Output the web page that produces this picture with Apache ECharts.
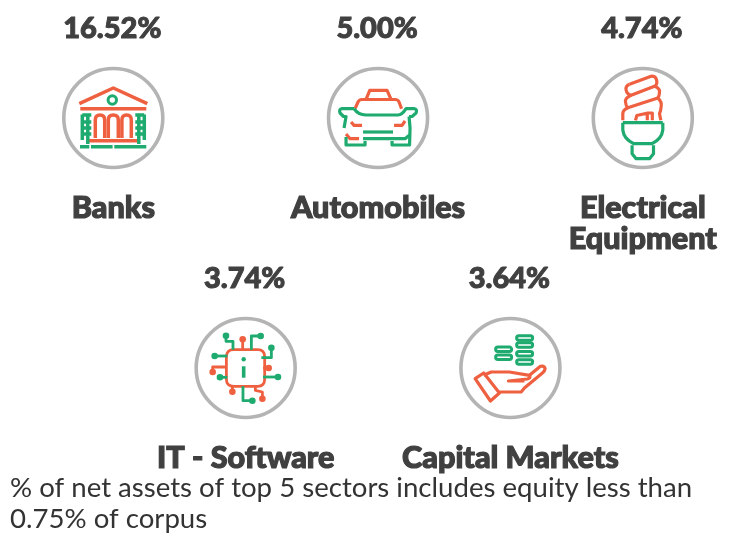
<!DOCTYPE html>
<html><head><meta charset="utf-8">
<style>html,body{margin:0;padding:0;background:#fff}#c{width:737px;height:546px}</style>
<script src="https://cdn.jsdelivr.net/npm/echarts@6/dist/echarts.min.js"></script>
</head><body><div id="c"></div>
<script>
const sectors = ['Banks','Automobiles','Electrical\nEquipment','IT - Software','Capital Markets'];
const shares = [16.52,5.00,4.74,3.74,3.64];
const slots = [0,1,2,0.5,1.5];
const rows = [0,0,0,1,1];
const iconKeys = ['bank','car','bulb','chip','hand'];
const footnote = '% of net assets of top 5 sectors includes equity less than\n0.75% of corpus';

const ORANGE='#ee6040', GREEN='#1fab6f', INK='#404040', RING='#b4b4b4';

echarts.graphic.registerShape('iconPath', echarts.graphic.extendShape({
  type:'iconPath',
  shape:{d:''},
  buildPath(ctx,s){
    const t=(s.d||'').trim().split(/[\s,]+/);let i=0;
    while(i<t.length){
      const c=t[i++];
      if(c==='M'){ctx.moveTo(+t[i],+t[i+1]);i+=2}
      else if(c==='L'){ctx.lineTo(+t[i],+t[i+1]);i+=2}
      else if(c==='Q'){ctx.quadraticCurveTo(+t[i],+t[i+1],+t[i+2],+t[i+3]);i+=4}
      else if(c==='Z'){ctx.closePath()}
    }
  }
}));

const dots=(list,color)=>list.map(p=>({type:'circle',shape:{cx:p[0],cy:p[1],r:p[2]||3.3},style:{fill:color,stroke:null}}));
const coin=(x,y)=>({type:'rect',shape:{x:x,y:y-2.2,width:16,height:4.4,r:2.2},style:{fill:'#fff',stroke:GREEN,lineWidth:3}});

const icons={
 bank:{w:3.5,o:[
   'M -34 -14.3 L 0 -30 L 34 -14.3',
   'M -33 -9.3 L 33 -9.3',
   'M -18 20 L -18 2 Q -18 -3 -13.3 -3 Q -8.6 -3 -8.6 2 L -8.6 20',
   'M -5 20 L -5 2 Q -5 -3 0 -3 Q 5 -3 5 2 L 5 20',
   'M 8.6 20 L 8.6 2 Q 8.6 -3 13.3 -3 Q 18 -3 18 2 L 18 20',
   'M -26.5 22.7 L 26 22.7'
 ],g:[
   'M -31 -3.5 L -31 22',
   'M -31 -3 L -22 -3 M -31 4 L -22 4 M -31 10 L -22 10 M -31 16 L -22 16 M -25.5 -3 L -25.5 26',
   'M 31 -3.5 L 31 22',
   'M 31 -3 L 22 -3 M 31 4 L 22 4 M 31 10 L 22 10 M 31 16 L 22 16 M 25.5 -3 L 25.5 26',
   'M -33.3 28.7 L -24 28.7 M -22.3 28.7 L -0.7 28.7 M 1 28.7 L 33 28.7'
 ],extra:[{type:'circle',shape:{cx:-1,cy:-18,r:4.2},style:{fill:'#fff',stroke:GREEN,lineWidth:3}}]},
 car:{w:3.2,o:[
   'M -11.7 -19.3 L -8.3 -27.7 L 9 -27.7 L 12.7 -19.3',
   'M -23 -9.3 L -20 -16 Q -19 -18.5 -16 -18.5 L 17 -18.5 Q 20 -18.5 21 -16 L 23.5 -9.3',
   'M -27 4 L -24 7.3 L -16 7.3',
   'M 27 3 L 24 7.3 L 16 7.3',
   'M -32 16 L -28 20.7 L -19 20.7'
 ],g:[
   'M -24 -9.3 Q -20 -3 -12 -3 L 20 -3 Q 24 -3 28 -9.3 L 36 -9.3 Q 39.5 -9 38 -5 L 34 -1.5 L 31 -1.5',
   'M -24 -9.3 L -36 -9.3 Q -39.5 -9 -38 -5 L -34.5 -1.5 L -32 -1.5 L -34 10',
   'M 31 -1.5 L 32 10 L 31.5 27 L 14 27 L 14 23',
   'M -32 19 L -32 27 L -13 27 L -13 23',
   'M -15 14 L 15 14',
   'M -15 20.7 L 27 20.7 L 31.5 17'
 ]},
 bulb:{w:3.2,o:[
   'M -13.3 -33.7 L 8.3 -41.7 Q 13 -42.5 14 -37 Q 14.5 -33 11.7 -31.7 Q 17 -30 16.7 -26 Q 16.5 -21.5 15 -20 Q 19.5 -16 18.3 -11 Q 18 -7 16.7 -4.3 L 18 2.3',
   'M -13.3 -33.7 Q -17.5 -32 -16.7 -28 Q -16 -24 -11.7 -22.7 L 11.7 -31.7',
   'M -11.7 -22.7 Q -18 -20 -17.3 -16 Q -17 -12 -15 -10.3 L 15 -20',
   'M -15 -10.3 Q -20 -8 -20 -4.3 L -20 2.3',
   'M -7.3 2.3 L -6 -2.5 L 5 -5 L 9.5 -5 L 9.5 2.3 M 4.5 -4.5 L 4.5 2.3'
 ],g:[
   'M -20 4.7 L 20 4.7',
   'M -20 4.7 L -20 12 Q -19 21 -9 25.7 L 9 25.7 Q 19 21 20 12 L 20 4.7',
   'M -10.7 27.3 L -10.7 35.7 L -6.7 40.7 L 6.7 40.7 L 10.7 35.7 L 10.7 27.3'
 ]},
 chip:{w:2.8,o:[
   'M -12 -18.3 L 12 -18.3 Q 19 -18.3 19 -11 L 19 11 Q 19 18.3 12 18.3 L -12 18.3 Q -19.3 18.3 -19.3 11 L -19.3 -11 Q -19.3 -18.3 -12 -18.3 Z',
   'M -3 -28.7 L -3 -18.3',
   'M -33 4 L -33 -1 L -19.3 -1',
   'M 23 0 L 17.3 0',
   'M -13.3 23.7 L -13.3 17.3',
   'M 9.7 18.3 L 9.7 22.3 L 16.7 24 L 16.7 30.7'
 ],g:[
   'M -19.7 -32.3 L -19.7 -26.7 L -12.7 -26.7 L -12.7 -18.3',
   'M 15 -32 L 5.7 -32 L 5.7 -18.3',
   'M 25.7 -20.3 L 25.7 -10.3 L 15.7 -10.3',
   'M -31 -12 L -18.3 -12',
   'M -25.7 9.3 L -18.3 9.3',
   'M 32.3 9 L 17.3 9',
   'M -2.7 18.3 L -2.7 32.7 L 6.7 32.7'
 ],extra:[
   {type:'iconPath',shape:{d:'M -2 -1.7 L -2 9.7'},style:{fill:null,stroke:GREEN,lineWidth:3.6}},
   ...dots([[-2,-8.7,2.2],[-19.7,-32.3],[15,-32],[25.7,-20.3],[-31,-12],[-25.7,9.3],[32.3,9],[6.7,32.7]],GREEN),
   ...dots([[-3,-28.7],[-33,4],[23,0],[-13.3,23.7],[16.7,30.7]],ORANGE)
 ]},
 hand:{w:3.2,o:[
   'M -35.3 10.7 L -26.7 5 L -11 25 L -20 33 Z',
   'M -26.7 7.3 L -19.3 4 L -1 4 L 19 7.3 Q 21 10 17 11 L -2 13 L 14 13',
   'M 19 7.3 L 30 -1.7 Q 34 -2.5 34.7 0.7 Q 34.5 3 32 5 L 14 20 L 10.7 24 L -11 24'
 ],g:[],extra:[
   coin(6.2,-30),coin(6.2,-23),coin(6.2,-14.3),coin(6.2,-6),coin(-14.8,-18.7),coin(-14.8,-10.7)
 ]}
};

const stroke=(d,color,w)=>({type:'iconPath',shape:{d},style:{fill:null,stroke:color,lineWidth:w,lineCap:'butt',lineJoin:'round'}});
const points=slots.map((s,i)=>[s,rows[i]]);

const chart=echarts.init(document.getElementById('c'),null,{renderer:'canvas'});
chart.setOption({
  animation:false,
  backgroundColor:'#fff',
  title:{text:footnote,left:10,top:473,padding:0,itemGap:0,
    textStyle:{fontFamily:'Lato',fontWeight:400,fontSize:27.6,lineHeight:31,color:'#333'}},
  grid:{left:113.3,width:529.5,top:118,height:250},
  xAxis:{type:'value',min:0,max:2,show:false},
  yAxis:{type:'value',min:0,max:1,inverse:true,show:false},
  series:[
    {type:'scatter',data:points,symbol:'circle',symbolSize:99,
     itemStyle:{color:'#fff',borderColor:RING,borderWidth:3.6,opacity:1},
     label:{show:true,position:'top',distance:24,offset:[-1,0],
       formatter:q=>shares[q.dataIndex].toFixed(2)+'%',
       fontFamily:'Lato',fontWeight:900,fontSize:29,color:INK,
       textBorderColor:INK,textBorderWidth:1},
     emphasis:{disabled:true},silent:true,z:1},
    {type:'scatter',data:points,symbol:'circle',symbolSize:99,
     itemStyle:{color:'transparent',opacity:1},
     label:{show:true,position:'bottom',distance:25,verticalAlign:'top',
       formatter:q=>sectors[q.dataIndex],align:'center',
       fontFamily:'Lato',fontWeight:900,fontSize:30.6,lineHeight:31,color:INK,
       textBorderColor:INK,textBorderWidth:1.2},
     emphasis:{disabled:true},silent:true,z:1},
    {type:'custom',data:points,clip:false,z:3,silent:true,
     renderItem(params,api){
       const pos=api.coord([api.value(0),api.value(1)]);
       const ic=icons[iconKeys[params.dataIndex]];
       return {type:'group',x:pos[0],y:pos[1],children:[
         ...ic.o.map(d=>stroke(d,ORANGE,ic.w)),
         ...ic.g.map(d=>stroke(d,GREEN,ic.w)),
         ...(ic.extra||[])
       ]};
     },
     encode:{x:0,y:1}}
  ]
});
</script></body></html>
